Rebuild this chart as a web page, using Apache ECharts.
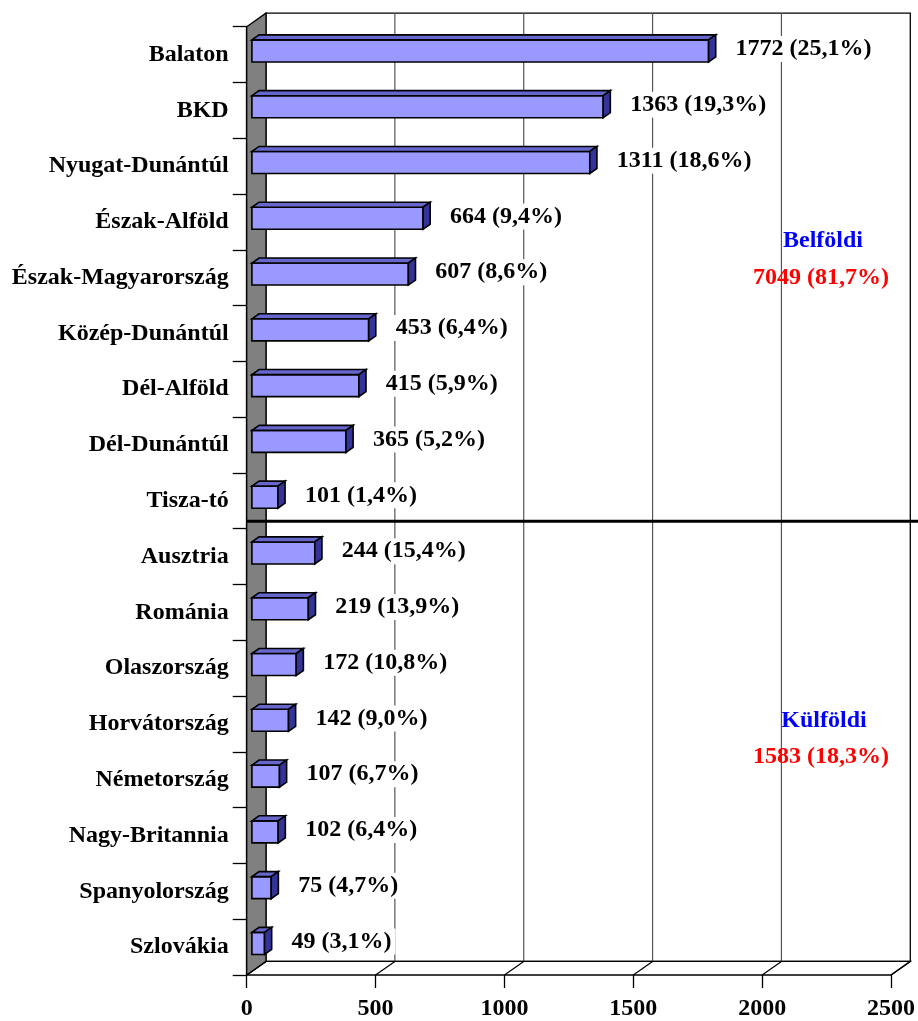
<!DOCTYPE html>
<html>
<head>
<meta charset="utf-8">
<script src="https://cdn.jsdelivr.net/npm/echarts@6/dist/echarts.min.js"></script>
<style>
html, body { margin: 0; padding: 0; background: #fff; }
#main { width: 918px; height: 1021px; }
</style>
</head>
<body>
<div id="main"></div>
<script>
var categories = ["Balaton", "BKD", "Nyugat-Dunántúl", "Észak-Alföld", "Észak-Magyarország",
  "Közép-Dunántúl", "Dél-Alföld", "Dél-Dunántúl", "Tisza-tó",
  "Ausztria", "Románia", "Olaszország", "Horvátország", "Németország",
  "Nagy-Britannia", "Spanyolország", "Szlovákia"];
var values = [1772, 1363, 1311, 664, 607, 453, 415, 365, 101,
  244, 219, 172, 142, 107, 102, 75, 49];
var percents = ["25,1", "19,3", "18,6", "9,4", "8,6", "6,4", "5,9", "5,2", "1,4",
  "15,4", "13,9", "10,8", "9,0", "6,7", "6,4", "4,7", "3,1"];
var xTicks = [0, 500, 1000, 1500, 2000, 2500];
var groupNames = ["Belföldi", "Külföldi"];
var groupTotals = [7049, 1583];
var groupPercents = ["81,7", "18,3"];
var domesticCount = 9; // first 9 rows are belföldi

var FAMILY = '"Liberation Serif", "Times New Roman", serif';
var FONT = "bold 24px " + FAMILY;
// 3D depth offset (front plane -> back wall)
var DX = 19.3, DY = -13.6;
// bar sits between these depth fractions
var F0 = 0.27, F1 = 0.64;

var myChart = echarts.init(document.getElementById("main"));

function renderFrame(params, api) {
  var cs = params.coordSys;
  var x = cs.x, y = cs.y, w = cs.width, h = cs.height;
  var kids = [];
  // back wall
  kids.push({ type: "rect", shape: { x: x + DX, y: y + DY, width: w, height: h },
    style: { fill: "#fff", stroke: "#000", lineWidth: 1.3 } });
  // gridlines on back wall
  xTicks.slice(1, -1).forEach(function (v) {
    var px = api.coord([v, 0])[0];
    kids.push({ type: "line", shape: { x1: px + DX, y1: y + DY, x2: px + DX, y2: y + h + DY },
      style: { stroke: "#555", lineWidth: 1.2 } });
  });
  // floor
  kids.push({ type: "polygon",
    shape: { points: [[x, y + h], [x + DX, y + h + DY], [x + w + DX, y + h + DY], [x + w, y + h]] },
    style: { fill: "#fff", stroke: "#000", lineWidth: 1.3 } });
  xTicks.forEach(function (v) {
    var px = api.coord([v, 0])[0];
    kids.push({ type: "line", shape: { x1: px, y1: y + h, x2: px + DX, y2: y + h + DY },
      style: { stroke: "#000", lineWidth: 1.2 } });
  });
  // left wall
  kids.push({ type: "polygon",
    shape: { points: [[x, y], [x + DX, y + DY], [x + DX, y + h + DY], [x, y + h]] },
    style: { fill: "#808080", stroke: "#000", lineWidth: 1.3 } });
  // divider between belföldi / külföldi
  var yd = y + h * domesticCount / categories.length + DY * 0.55;
  kids.push({ type: "line", shape: { x1: x, y1: yd, x2: api.getWidth(), y2: yd },
    style: { stroke: "#000", lineWidth: 3 } });
  return { type: "group", children: kids };
}

function renderBar(params, api) {
  var v = api.value(0), i = api.value(1);
  var s = api.coord([0, i]), e = api.coord([v, i]);
  var band = api.size([0, 1])[1];
  var bh = band * 0.395;
  var dx = DX * (F1 - F0), dy = DY * (F1 - F0);
  var x0 = s[0] + DX * F0, x1 = e[0] + DX * F0;
  var cy = s[1] + DY * F0, yt = cy - bh / 2, yb = cy + bh / 2;
  var lw = 1.6;
  return {
    type: "group",
    children: [
      { type: "rect", shape: { x: x0, y: yt, width: x1 - x0, height: bh },
        style: { fill: "#9999ff", stroke: "#000", lineWidth: lw } },
      { type: "polygon", shape: { points: [[x0, yt], [x0 + dx, yt + dy], [x1 + dx, yt + dy], [x1, yt]] },
        style: { fill: "#6666cc", stroke: "#000", lineWidth: lw } },
      { type: "polygon", shape: { points: [[x1, yt], [x1 + dx, yt + dy], [x1 + dx, yb + dy], [x1, yb]] },
        style: { fill: "#333399", stroke: "#000", lineWidth: lw } },
      { type: "text",
        style: { text: v + " (" + percents[i] + "%)", x: x1 + 23, y: s[1] - 5.5,
          font: FONT, fill: "#000", align: "left", verticalAlign: "middle",
          backgroundColor: "#fff", padding: [1, 4] } }
    ]
  };
}

var option = {
  animation: false,
  backgroundColor: "#fff",
  grid: { left: 246.7, top: 26.7, width: 646.3, height: 950.3 },
  xAxis: {
    type: "value",
    min: xTicks[0],
    max: xTicks[xTicks.length - 1],
    interval: 500,
    axisLine: { show: false },
    axisTick: { show: true, length: 13, lineStyle: { color: "#000", width: 1.3 } },
    splitLine: { show: false },
    axisLabel: { fontFamily: FAMILY, fontWeight: "bold", fontSize: 24, color: "#000", margin: 22,
      formatter: function (v) { return String(v); } }
  },
  yAxis: {
    type: "category",
    inverse: true,
    data: categories,
    axisLine: { show: true, lineStyle: { color: "#000", width: 1.3 } },
    axisTick: { show: true, length: 14, lineStyle: { color: "#000", width: 1.3 } },
    axisLabel: { fontFamily: FAMILY, fontWeight: "bold", fontSize: 24, color: "#000", margin: 18 }
  },
  graphic: [
    { type: "text", x: 823, y: 241, z: 10,
      style: { text: groupNames[0], font: FONT, fill: "#0000ff", align: "center", verticalAlign: "middle" } },
    { type: "text", x: 821, y: 278, z: 10,
      style: { text: groupTotals[0] + " (" + groupPercents[0] + "%)", font: FONT, fill: "#ff0000",
        align: "center", verticalAlign: "middle" } },
    { type: "text", x: 824, y: 721, z: 10,
      style: { text: groupNames[1], font: FONT, fill: "#0000ff", align: "center", verticalAlign: "middle" } },
    { type: "text", x: 821, y: 757, z: 10,
      style: { text: groupTotals[1] + " (" + groupPercents[1] + "%)", font: FONT, fill: "#ff0000",
        align: "center", verticalAlign: "middle" } }
  ],
  series: [
    {
      type: "custom",
      z: 1,
      silent: true,
      renderItem: renderFrame,
      data: [[0, 0]]
    },
    {
      type: "custom",
      z: 2,
      renderItem: renderBar,
      encode: { x: 0, y: 1 },
      data: values.map(function (v, i) { return [v, i]; })
    }
  ]
};

myChart.setOption(option);
</script>
</body>
</html>
